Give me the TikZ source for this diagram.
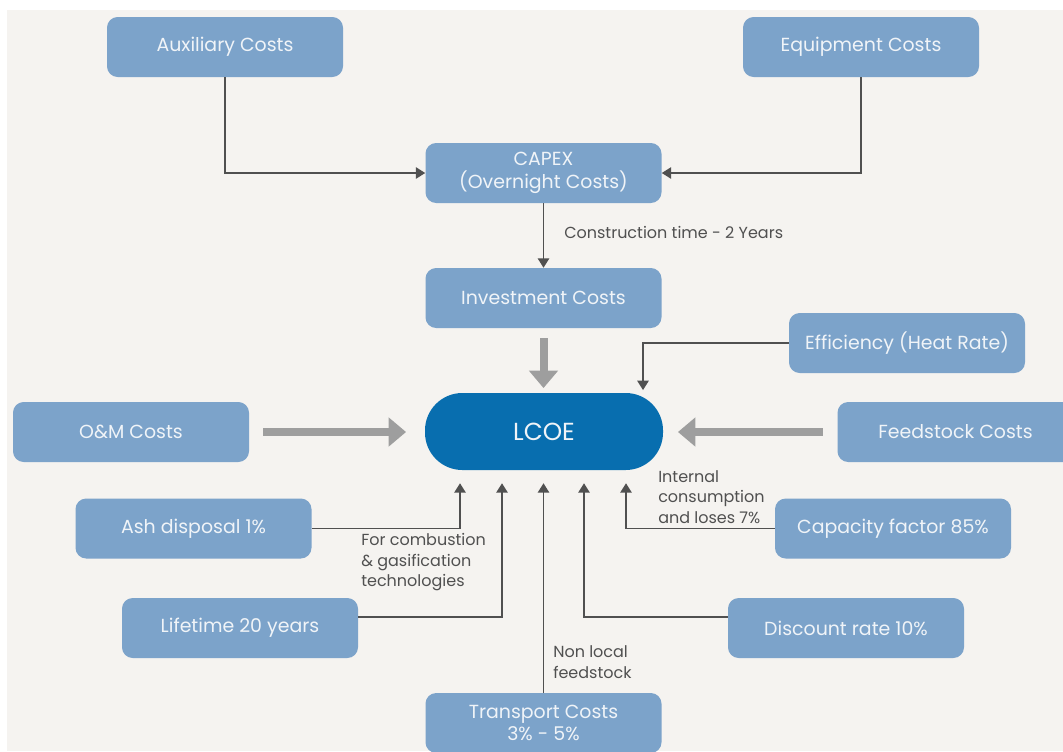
\documentclass[tikz,border=0pt]{standalone}
\usepackage{fontspec}
\setmainfont{Poppins}
\usetikzlibrary{arrows.meta, calc}
\definecolor{boxblue}{RGB}{124,163,202}
\definecolor{lcoeblue}{RGB}{8,110,175}
\definecolor{paper}{RGB}{245,243,240}
\definecolor{inkgray}{RGB}{80,80,80}
\definecolor{fatgray}{RGB}{158,158,158}
\definecolor{boxtext}{RGB}{240,244,248}
\tikzset{costbox/.style = {rectangle, rounded corners=8pt, fill=boxblue, text=boxtext, minimum width=177pt, minimum height=45pt, align=center, inner sep=0pt, font=\fontsize{14.2}{17}\selectfont}}
\tikzset{notetext/.style = {text=inkgray, align=left, inner sep=0pt, font=\fontsize{12}{15.4}\selectfont}}
\tikzset{thinline/.style = {draw=inkgray, line width=1.1pt}, fatline/.style = {draw=fatgray, line width=6pt}}
\newcommand{\thinTip}{{Triangle[width=8.5pt,length=7pt]}}
\newcommand{\fatTip}{{Triangle[width=21pt,length=13pt]}}

\begin{document}
\begin{tikzpicture}[x=0.75pt, y=-0.75pt]
	\clip (0,0) rectangle (1063,751);
	\useasboundingbox (0,0) rectangle (1063,751);
	\fill[white] (0,0) rectangle (1063,751);
	\fill[paper] (7,10) rectangle (1063,751);
	
	\node[costbox] (aux) at (225,47) {Auxiliary Costs};
	\node[costbox] (equip) at (861,47) {Equipment Costs};
	\node[costbox] (capex) at (543.5,173) {CAPEX\\(Overnight Costs)};
	\node[costbox] (invest) at (543.5,298) {Investment Costs};
	\node[costbox] (efficiency) at (907,343) {Efficiency (Heat Rate)};
	\node[costbox, fill=lcoeblue, minimum width=178.5pt, minimum height=57.75pt, rounded corners=28pt, font=\fontsize{18.5}{20}\selectfont] (lcoe) at (544,431.5) {LCOE};
	\node[costbox] (om) at (131,432) {O\&M Costs};
	\node[costbox] (feed) at (955.5,432) {Feedstock Costs};
	\node[costbox] (ash) at (193.5,528.5) {Ash disposal 1\%};
	\node[costbox] (life) at (240,628) {Lifetime 20 years};
	\node[costbox] (capacity) at (893,528.5) {Capacity factor 85\%};
	\node[costbox] (discount) at (846,628) {Discount rate 10\%};
	\node[costbox] (transport) at (543.5,723) {Transport Costs\\3\% - 5\%};
	
	\draw[thinline, -\thinTip]	(aux.south) |- (capex.west);
	\draw[thinline, -\thinTip]	(equip.south) |- (capex.east);
	\draw[thinline, -\thinTip]	(capex.south) -- (invest.north);
	\draw[fatline, -\fatTip, shorten <=7.5pt, shorten >=3.5pt]	(invest.south) -- (invest.south |- lcoe.north);
	\draw[fatline, -\fatTip, shorten <=10.5pt, shorten >=14pt]	(om.east) -- (om.east -| lcoe.west);
	\draw[fatline, -\fatTip, shorten <=11pt, shorten >=11pt]	(feed.west) -- (feed.west -| lcoe.east);
	\draw[thinline, -\thinTip, shorten >=2pt]	(efficiency.west) -| ($(lcoe.north)+(99,0)$);
	
	\coordinate (in1) at ($(lcoe.south)+(-84,13)$);
	\coordinate (in2) at ($(lcoe.south)+(-42,13)$);
	\coordinate (in3) at ($(lcoe.south)+(0,13)$);
	\coordinate (in4) at ($(lcoe.south)+(40,13)$);
	\coordinate (in5) at ($(lcoe.south)+(82,13)$);
	\draw[thinline, -\thinTip]	(ash.east) -| (in1);
	\draw[thinline, -\thinTip]	($(life.east)+(0,-11)$) -| (in2);
	\draw[thinline, -\thinTip]	(transport.north) -- (transport.north |- in3);
	\draw[thinline, -\thinTip]	($(discount.west)+(0,-11)$) -| (in4);
	\draw[thinline, -\thinTip]	(capacity.west) -| (in5);
	
	\node[notetext, anchor=west] (ctime) at (564,232) {Construction time - 2 Years};
	\node[notetext, anchor=west] (combust) at (361,562.5) {For combustion\\\& gasification\\technologies};
	\node[notetext, anchor=west] (internal) at (658,497) {Internal\\consumption\\and loses 7\%};
	\node[notetext, anchor=west] (nonlocal) at (553,662) {Non local\\feedstock};
\end{tikzpicture}
\end{document}
